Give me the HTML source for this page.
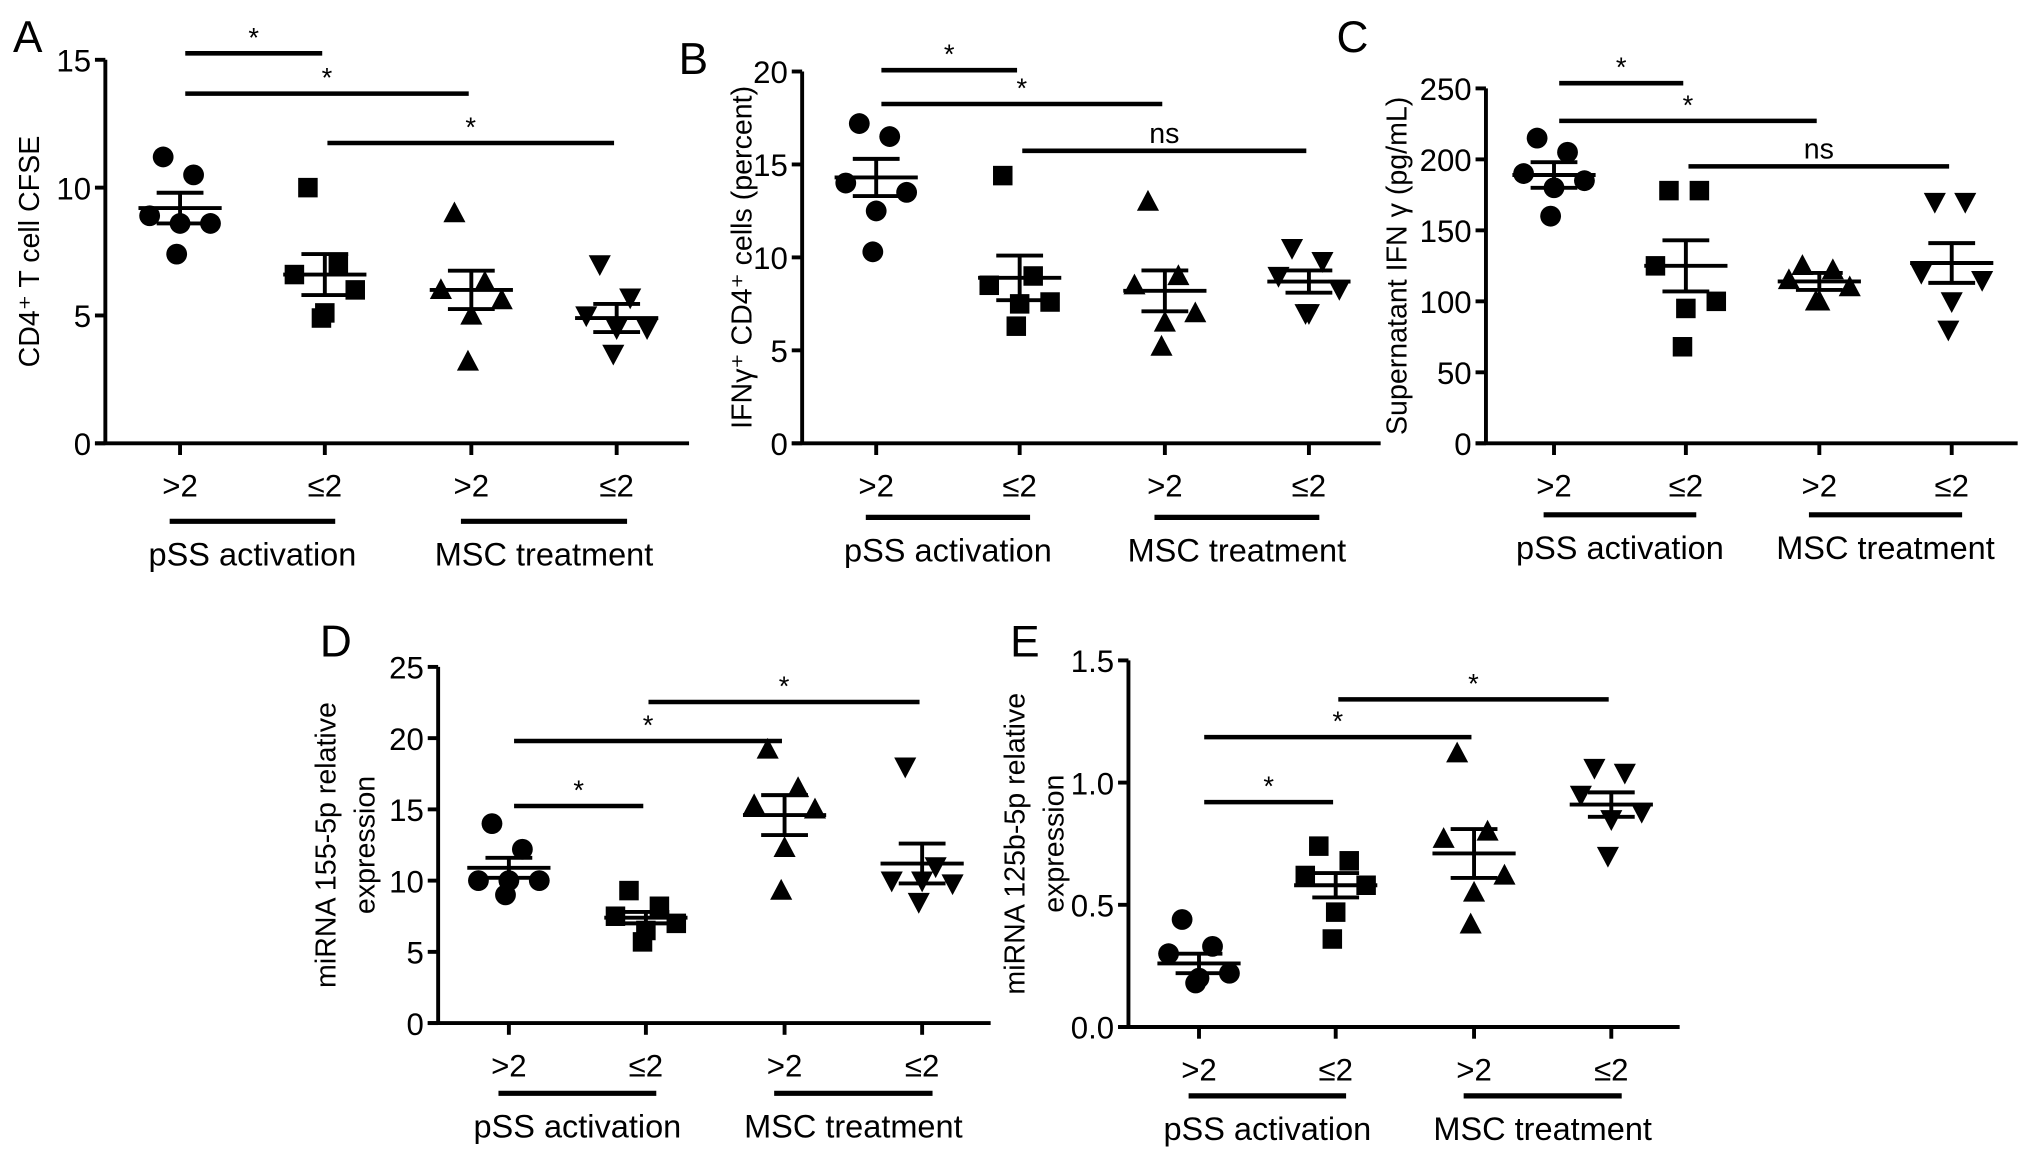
<!DOCTYPE html>
<html><head><meta charset="utf-8"><style>
html,body{margin:0;padding:0;background:#fff;}
svg{display:block;font-family:"Liberation Sans",sans-serif;}
</style></head><body>
<svg id="fig" width="2032" height="1157" viewBox="0 0 1563 890" xmlns="http://www.w3.org/2000/svg"></svg>
<script>
// Panel data
const categories = [">2", "≤2", ">2", "≤2"];
const aValues = [[11.2,10.5,8.9,8.6,8.6,7.4],[10.0,7.0,6.6,6.0,5.1,4.9],[9.0,6.3,6.0,5.6,5.0,3.2],[7.0,5.7,5.0,4.5,4.5,3.5]];
const aMeans = [9.2,6.6,6.0,4.9];
const aSem = [0.6,0.8,0.75,0.55];
const aTicks = [0,5,10,15];
const bValues = [[17.2,16.5,14.0,13.5,12.5,10.3],[14.4,9.0,8.5,7.6,7.5,6.3],[13.0,9.0,8.5,7.0,6.5,5.2],[10.5,9.8,9.0,8.3,7.0,7.0]];
const bMeans = [14.3,8.9,8.2,8.7];
const bSem = [1.0,1.2,1.1,0.6];
const bTicks = [0,5,10,15,20];
const cValues = [[215,205,190,185,180,160],[178,178,125,100,95,68],[125,122,115,110,100,100],[170,170,120,115,100,80]];
const cMeans = [189,125,114,127];
const cSem = [9,18,6,14];
const cTicks = [0,50,100,150,200,250];
const dValues = [[14,12.2,10,10,10,9],[9.3,8.2,7.5,7.0,6.5,5.7],[19.2,16.5,15.3,15.0,12.3,9.3],[18,11,10,9.8,10,8.5]];
const dMeans = [10.9,7.4,14.6,11.2];
const dSem = [0.7,0.4,1.4,1.4];
const dTicks = [0,5,10,15,20,25];
const eValues = [[0.44,0.33,0.30,0.22,0.20,0.18],[0.74,0.68,0.62,0.58,0.47,0.36],[1.12,0.80,0.77,0.62,0.55,0.42],[1.06,1.04,0.95,0.88,0.85,0.70]];
const eMeans = [0.26,0.58,0.71,0.91];
const eSem = [0.04,0.05,0.10,0.05];
const eTicks = ["0.0","0.5","1.0","1.5"];

const NS="http://www.w3.org/2000/svg";
const svg=document.getElementById('fig');
function mk(tag,attrs,parent,text){const e=document.createElementNS(NS,tag);for(const k in attrs)e.setAttribute(k,attrs[k]);if(text!==undefined)e.textContent=text;(parent||svg).appendChild(e);return e;}
const jit=[-10,8,-18,18,0,-2];

function panel(p){
  const g=mk('g',{});
  
  
  const ticks=p.ticks.map(Number);
  const ymax=ticks[ticks.length-1];
  const y=v=>p.y0-(v/ymax)*(p.y0-p.ytop);
  const xs=[.128,.376,.627,.876].map(f=>p.x0+f*(p.xend-p.x0));
  const L=mk('text',{x:p.lx,y:p.ly,'font-size':34},g,p.letter);
  
  const ya=mk('line',{x1:p.x0,y1:p.ytop,x2:p.x0,y2:p.y0,stroke:'#000','stroke-width':3},g);
  
  const xa=mk('line',{x1:p.x0-8,y1:p.y0,x2:p.xend,y2:p.y0,stroke:'#000','stroke-width':3},g);
  
  p.ticks.forEach(t=>{const yy=y(Number(t));
    mk('line',{x1:p.x0-8,y1:yy,x2:p.x0,y2:yy,stroke:'#000','stroke-width':3},g);
    const tl=mk('text',{x:p.x0-11,y:yy+9,'font-size':24,'text-anchor':'end'},g,t);
    });
  categories.forEach((c,i)=>{
    mk('line',{x1:xs[i],y1:p.y0,x2:xs[i],y2:p.y0+9,stroke:'#000','stroke-width':3},g);
    const t=mk('text',{x:xs[i],y:p.y0+41,'font-size':24,'text-anchor':'middle'},g,c);
    
  });
  [[0,1,'pSS activation'],[2,3,'MSC treatment']].forEach(([a,b,txt])=>{
    mk('line',{x1:xs[a]-8,y1:p.y0+p.gl,x2:xs[b]+8,y2:p.y0+p.gl,stroke:'#000','stroke-width':4},g);
    const t=mk('text',{x:(xs[a]+xs[b])/2,y:p.y0+p.gl+34,'font-size':25,'text-anchor':'middle'},g,txt);
    
  });
  const yt=mk('text',{transform:`translate(${p.tx},${(p.ytop+p.y0)/2}) rotate(-90)`,'font-size':22,'text-anchor':'middle'},g);
  
  p.title.forEach((ln,k)=>{mk('tspan',{x:0,dy:k?30:0},yt,ln);});
  p.values.forEach((arr,i)=>{
    arr.forEach((v,j)=>{
      const cx=xs[i]+jit[j]*1.3, cy=y(v); let m;
      if(i===0) m=mk('circle',{cx,cy,r:8},g);
      else if(i===1) m=mk('rect',{x:cx-7.5,y:cy-7.5,width:15,height:15},g);
      else if(i===2) m=mk('polygon',{points:`${cx},${cy-9} ${cx-8.5},${cy+7} ${cx+8.5},${cy+7}`},g);
      else m=mk('polygon',{points:`${cx},${cy+9} ${cx-8.5},${cy-7} ${cx+8.5},${cy-7}`},g);
      
    });
    const mm=p.means[i], s=p.sem[i];
    const ml=mk('line',{x1:xs[i]-32,y1:y(mm),x2:xs[i]+32,y2:y(mm),stroke:'#000','stroke-width':3},g);
    
    mk('line',{x1:xs[i],y1:y(mm+s),x2:xs[i],y2:y(mm-s),stroke:'#000','stroke-width':3},g);
    mk('line',{x1:xs[i]-18,y1:y(mm+s),x2:xs[i]+18,y2:y(mm+s),stroke:'#000','stroke-width':3},g);
    mk('line',{x1:xs[i]-18,y1:y(mm-s),x2:xs[i]+18,y2:y(mm-s),stroke:'#000','stroke-width':3},g);
  });
  p.sig.forEach(([a,b,yy,lab])=>{
    const x1=xs[a]+(a===0?4:2), x2=xs[b]-2;
    const l=mk('line',{x1,y1:yy,x2,y2:yy,stroke:'#000','stroke-width':3.5},g);
    
    mk('text',{x:(x1+x2)/2,y:lab==='*'?yy-5:yy-6,'font-size':lab==='*'?21:22,'text-anchor':'middle'},g,lab);
  });
}
panel({letter:'A',lx:10,ly:40,x0:81,ytop:46,y0:341,xend:530,gl:60,tx:30,title:['CD4⁺ T cell CFSE'],
  values:aValues,means:aMeans,sem:aSem,ticks:aTicks,sig:[[0,1,41,'*'],[0,2,72,'*'],[1,3,110,'*']]});
panel({letter:'B',lx:522,ly:57,x0:617,ytop:55,y0:341,xend:1062,gl:57,tx:578,title:['IFNγ⁺ CD4⁺ cells (percent)'],
  values:bValues,means:bMeans,sem:bSem,ticks:bTicks,sig:[[0,1,54,'*'],[0,2,80,'*'],[1,3,116,'ns']]});
panel({letter:'C',lx:1028,ly:40,x0:1143,ytop:68,y0:341,xend:1552,gl:55,tx:1082,title:['Supernatant IFN γ (pg/mL)'],
  values:cValues,means:cMeans,sem:cSem,ticks:cTicks,sig:[[0,1,64,'*'],[0,2,93,'*'],[1,3,128,'ns']]});
panel({letter:'D',lx:246,ly:505,x0:337,ytop:513,y0:787,xend:762,gl:54,tx:258,title:['miRNA 155-5p relative','expression'],
  values:dValues,means:dMeans,sem:dSem,ticks:dTicks,sig:[[0,1,620,'*'],[0,2,570,'*'],[1,3,540,'*']]});
panel({letter:'E',lx:777,ly:505,x0:868,ytop:508,y0:790,xend:1292,gl:53,tx:788,title:['miRNA 125b-5p relative','expression'],
  values:eValues,means:eMeans,sem:eSem,ticks:eTicks,sig:[[0,1,617,'*'],[0,2,567,'*'],[1,3,538,'*']]});
</script>
</body></html>
